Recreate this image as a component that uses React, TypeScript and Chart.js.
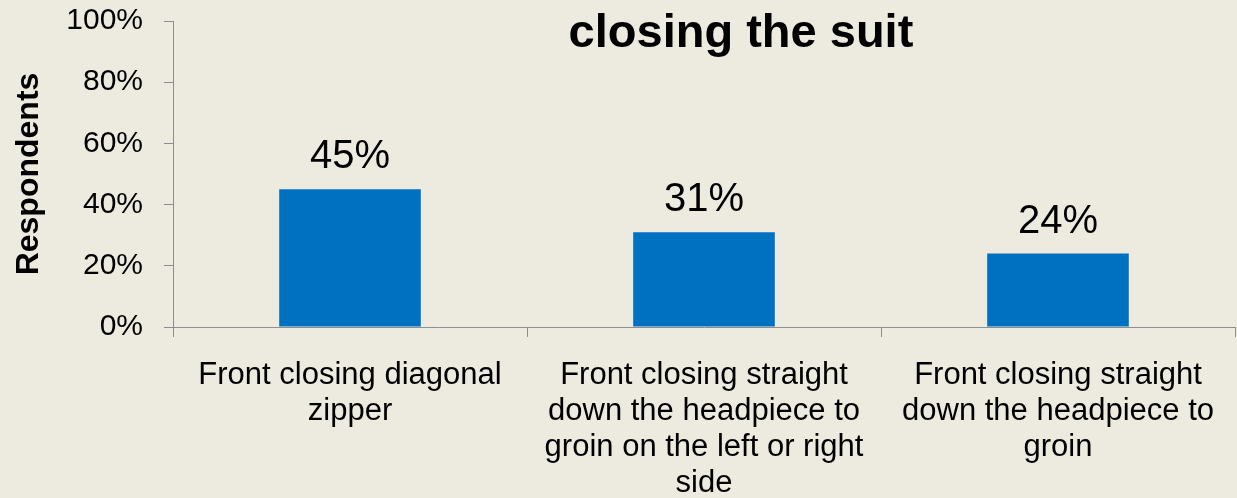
import React, { useEffect, useRef } from "react";
import { Chart, registerables } from "chart.js";

Chart.register(...registerables);

const categories: string[][] = [
  ["Front closing diagonal", "zipper"],
  ["Front closing straight", "down the headpiece to", "groin on the left or right", "side"],
  ["Front closing straight", "down the headpiece to", "groin"],
];
const values: number[] = [45, 31, 24];
const yTicks: number[] = [0, 20, 40, 60, 80, 100];
const titleText = "closing the suit";
const yTitle = "Respondents";

const FONT = "'Liberation Sans', Arial, sans-serif";
const BG = "#EDEBE0";
const BAR = "#0070C0";
const AXIS = "#8E8E8E";

export default function App() {
  const ref = useRef<HTMLCanvasElement | null>(null);

  useEffect(() => {
    document.body.style.margin = "0";
    document.body.style.background = BG;
    const canvas = ref.current;
    if (!canvas) return;

    const labelPlugin = {
      id: "valueLabels",
      afterDatasetsDraw(chart: any) {
        const ctx = chart.ctx;
        const meta = chart.getDatasetMeta(0);
        ctx.save();
        ctx.font = `40px ${FONT}`;
        ctx.fillStyle = "#000";
        ctx.textAlign = "center";
        ctx.textBaseline = "alphabetic";
        meta.data.forEach((el: any, i: number) => {
          ctx.fillText(`${values[i]}%`, el.x, el.y - 21);
        });
        ctx.restore();
      },
    };

    const titlePlugin = {
      id: "topTitle",
      afterDraw(chart: any) {
        const ctx = chart.ctx;
        ctx.save();
        ctx.font = `bold 47px ${FONT}`;
        ctx.fillStyle = "#000";
        ctx.textAlign = "center";
        ctx.textBaseline = "alphabetic";
        ctx.fillText(titleText, chart.width * 0.599, 47);
        ctx.restore();
      },
    };

    const bgPlugin = {
      id: "bg",
      beforeDraw(chart: any) {
        const ctx = chart.ctx;
        ctx.save();
        ctx.fillStyle = BG;
        ctx.fillRect(0, 0, chart.width, chart.height);
        ctx.restore();
      },
    };

    const chart = new Chart(canvas, {
      type: "bar",
      data: {
        labels: categories,
        datasets: [
          {
            data: values,
            backgroundColor: BAR,
            borderWidth: 0,
            categoryPercentage: 0.4,
            barPercentage: 1,
          },
        ],
      },
      options: {
        animation: false,
        responsive: false,
        maintainAspectRatio: false,
        layout: { padding: { left: 0, top: 21, right: 2, bottom: 0 } },
        plugins: {
          legend: { display: false },
          tooltip: { enabled: false },
          title: { display: false },
        },
        scales: {
          x: {
            offset: true,
            grid: {
              offset: true,
              drawOnChartArea: false,
              drawTicks: true,
              tickLength: 10,
              color: AXIS,
              tickColor: AXIS,
            },
            border: { color: AXIS, width: 1 },
            ticks: {
              color: "#000",
              font: { family: FONT, size: 31, lineHeight: 1.165 },
              padding: 20,
              maxRotation: 0,
              autoSkip: false,
            },
            afterFit(scale: any) {
              scale.height = 171;
              scale.paddingLeft = 0;
              scale.paddingRight = 0;
            },
          },
          y: {
            min: 0,
            max: 100,
            afterBuildTicks(scale: any) {
              scale.ticks = yTicks.map((v) => ({ value: v }));
            },
            grid: {
              drawOnChartArea: false,
              drawTicks: true,
              tickLength: 9,
              color: AXIS,
              tickColor: AXIS,
            },
            border: { color: AXIS, width: 1 },
            ticks: {
              color: "#000",
              font: { family: FONT, size: 30 },
              padding: 21,
              callback: (v: any) => `${v}%`,
            },
            title: {
              display: true,
              text: yTitle,
              color: "#000",
              font: { family: FONT, size: 32, weight: "bold" },
              padding: { top: 10, bottom: 0 },
            },
            afterFit(scale: any) {
              scale.width = 173;
              scale.paddingTop = 0;
              scale.paddingBottom = 0;
            },
          },
        },
      },
      plugins: [bgPlugin, labelPlugin, titlePlugin],
    });

    return () => chart.destroy();
  }, []);

  return (
    <div style={{ width: 1237, height: 498, background: BG }}>
      <canvas ref={ref} width={1237} height={498} style={{ display: "block" }} />
    </div>
  );
}
